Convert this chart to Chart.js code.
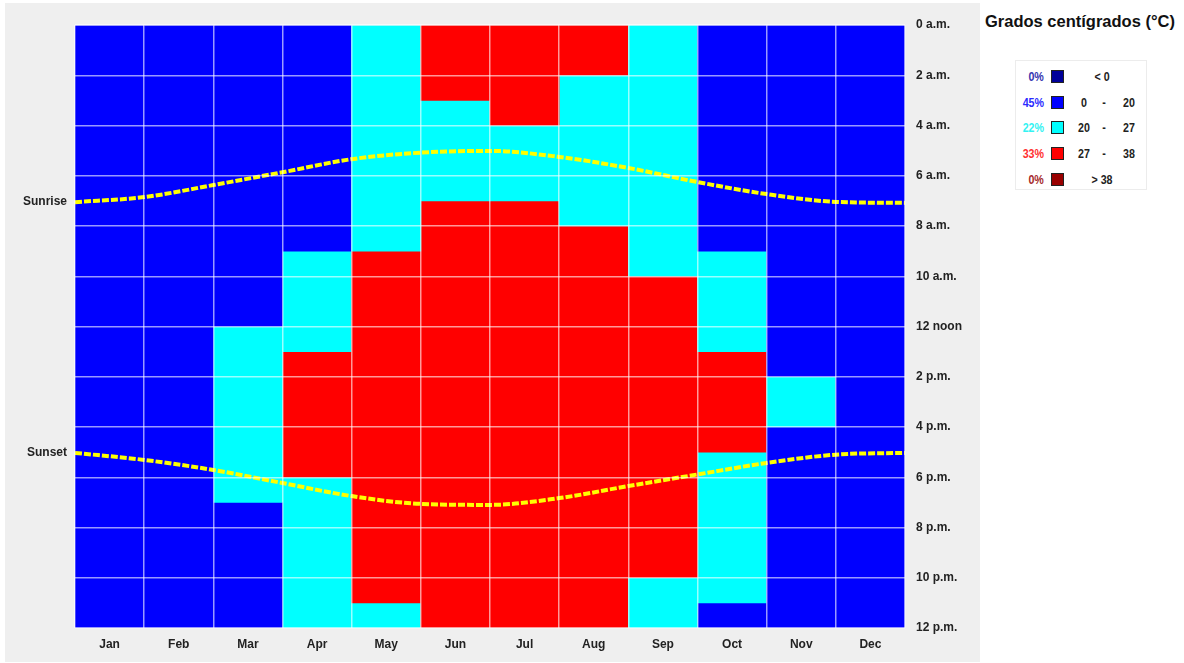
<!DOCTYPE html>
<html>
<head>
<meta charset="utf-8">
<script src="https://cdn.jsdelivr.net/npm/chart.js@4.4.1/dist/chart.umd.min.js"></script>
<style>
  html, body { margin: 0; padding: 0; background: #ffffff; width: 1184px; height: 663px; overflow: hidden; }
  #wrap { position: absolute; left: 5px; top: 3px; width: 975px; height: 659px; background: #efefef; }
  #title { position: absolute; left: 985px; top: 12px; font: bold 16.5px "Liberation Sans", Arial, sans-serif; color: #111; white-space: nowrap; }
  #legend { position: absolute; left: 1015px; top: 60px; width: 132px; height: 130px; background: #fff; border: 1px solid #ececec; box-sizing: border-box; }
  .row { position: absolute; left: 0; width: 132px; height: 16px; font: bold 13px "Liberation Sans", Arial, sans-serif; color: #222; }
  .pct { position: absolute; right: 104px; top: 0; text-align: right; transform: scaleX(0.82); transform-origin: right center; }
  .sw { position: absolute; left: 35px; top: 1px; width: 11px; height: 11px; border: 1px solid #222; }
  .t { position: absolute; top: 0; transform: translateX(-50%) scaleX(0.82); white-space: nowrap; }
</style>
</head>
<body>
<div id="wrap"><canvas id="c"></canvas></div>
<div id="title">Grados centígrados (°C)</div>
<div id="legend"></div>
<script>
// ---- data ----
const months = ['Jan','Feb','Mar','Apr','May','Jun','Jul','Aug','Sep','Oct','Nov','Dec'];
const hourTickLabels = ['0 a.m.','2 a.m.','4 a.m.','6 a.m.','8 a.m.','10 a.m.','12 noon','2 p.m.','4 p.m.','6 p.m.','8 p.m.','10 p.m.','12 p.m.'];
// temperature band index per run: [band, number of hours], from 0 a.m. downwards
const monthRuns = [
  [[1,24]],                                  // Jan
  [[1,24]],                                  // Feb
  [[1,12],[2,7],[1,5]],                      // Mar
  [[1,9],[2,4],[3,5],[2,6]],                 // Apr
  [[2,9],[3,14],[2,1]],                      // May
  [[3,3],[2,4],[3,17]],                      // Jun
  [[3,4],[2,3],[3,17]],                      // Jul
  [[3,2],[2,6],[3,16]],                      // Aug
  [[2,10],[3,12],[2,2]],                     // Sep
  [[1,9],[2,4],[3,4],[2,6],[1,1]],           // Oct
  [[1,14],[2,2],[1,8]],                      // Nov
  [[1,24]]                                   // Dec
];
const bandColors = ['#000099','#0000ff','#00ffff','#ff0000','#990000'];
const bandTextColors = ['#3535b0','#2b2bff','#33f2f2','#ff3030','#a52a2a'];
const bandPercents = ['0%','45%','22%','33%','0%'];
const bandRanges = [['< 0'],['0','20'],['20','27'],['27','38'],['> 38']];
// sunrise / sunset hour at month boundaries (start Jan ... end Dec)
const sunPosX = [0,1,2,3,4,5,6,7,8,9,10,11,12];
const sunrise = [7.05,6.85,6.37,5.86,5.34,5.08,5.01,5.25,5.69,6.25,6.73,7.04,7.08];
const sunset  = [17.03,17.31,17.71,18.23,18.75,19.06,19.10,18.83,18.35,17.89,17.43,17.10,17.03];

// ---- build segments ----
const segs = monthRuns.map(runs => {
  let h = 0; return runs.map(([b, n]) => { const s = [h, h + n, b]; h += n; return s; });
});
const maxSegs = Math.max(...segs.map(s => s.length));
const datasets = [];
for (let k = 0; k < maxSegs; k++) {
  datasets.push({
    type: 'bar',
    data: segs.map(s => s[k] ? [s[k][0], s[k][1]] : null),
    backgroundColor: segs.map(s => s[k] ? bandColors[s[k][2]] : 'rgba(0,0,0,0)'),
    borderWidth: 0,
    grouped: false,
    barPercentage: 1,
    categoryPercentage: 1,
    xAxisID: 'x', yAxisID: 'y',
    order: 2
  });
}
const sunLine = arr => ({
  type: 'line',
  data: sunPosX.map((x, i) => ({ x: x, y: arr[i] })),
  borderColor: '#ffff00',
  borderWidth: 4,
  borderDash: [7, 2],
  pointRadius: 0,
  fill: false,
  tension: 0.4,
  cubicInterpolationMode: 'monotone',
  xAxisID: 'xs', yAxisID: 'y',
  order: 0
});
datasets.push(sunLine(sunrise), sunLine(sunset));

const tickFont = { family: '"Liberation Sans", Arial, sans-serif', size: 12, weight: 'bold' };

new Chart(document.getElementById('c'), {
  type: 'bar',
  data: { labels: months, datasets: datasets },
  options: {
    responsive: true,
    maintainAspectRatio: false,
    animation: false,
    layout: { padding: { top: 22, left: 0, right: 0, bottom: 0 } },
    plugins: { legend: { display: false }, tooltip: { enabled: false } },
    scales: {
      x: {
        type: 'category', position: 'bottom', offset: true,
        grid: { offset: true, color: 'rgba(255,255,255,0.6)', lineWidth: 1.5, drawTicks: false, z: 1 },
        border: { display: false },
        ticks: { font: tickFont, color: '#222', padding: 9 },
        afterFit: s => { s.height = 34; }
      },
      xs: { type: 'linear', display: false, min: 0, max: 12, offset: false, grid: { offset: false } },
      y: {
        type: 'linear', position: 'right', reverse: true, min: 0, max: 24,
        grid: { color: 'rgba(255,255,255,0.6)', lineWidth: 1.5, drawTicks: false, z: 1 },
        border: { display: false },
        ticks: { stepSize: 2, font: tickFont, color: '#222', padding: 11,
                 callback: (v) => hourTickLabels[Math.round(v / 2)] },
        afterFit: s => { s.width = 75; }
      },
      ylab: {
        type: 'linear', position: 'left', reverse: true, min: 0, max: 24,
        grid: { display: false, drawTicks: false }, border: { display: false },
        afterBuildTicks: s => { s.ticks = [{ value: sunrise[0] }, { value: sunset[0] }]; },
        ticks: { font: tickFont, color: '#222', padding: 8,
                 callback: (v, i) => i === 0 ? 'Sunrise' : 'Sunset' },
        afterFit: s => { s.width = 70; }
      }
    }
  }
});

// ---- legend ----
const lg = document.getElementById('legend');
const rowTops = [8, 34, 59, 85, 111];
bandPercents.forEach((p, i) => {
  const r = document.createElement('div');
  r.className = 'row'; r.style.top = rowTops[i] + 'px';
  let html = '<span class="pct" style="color:' + bandTextColors[i] + '">' + p + '</span>' +
             '<span class="sw" style="background:' + bandColors[i] + '"></span>';
  const rg = bandRanges[i];
  if (rg.length === 1) html += '<span class="t" style="left:86px">' + rg[0] + '</span>';
  else html += '<span class="t" style="left:68px">' + rg[0] + '</span><span class="t" style="left:88px">-</span><span class="t" style="left:113px">' + rg[1] + '</span>';
  r.innerHTML = html;
  lg.appendChild(r);
});
</script>
</body>
</html>
